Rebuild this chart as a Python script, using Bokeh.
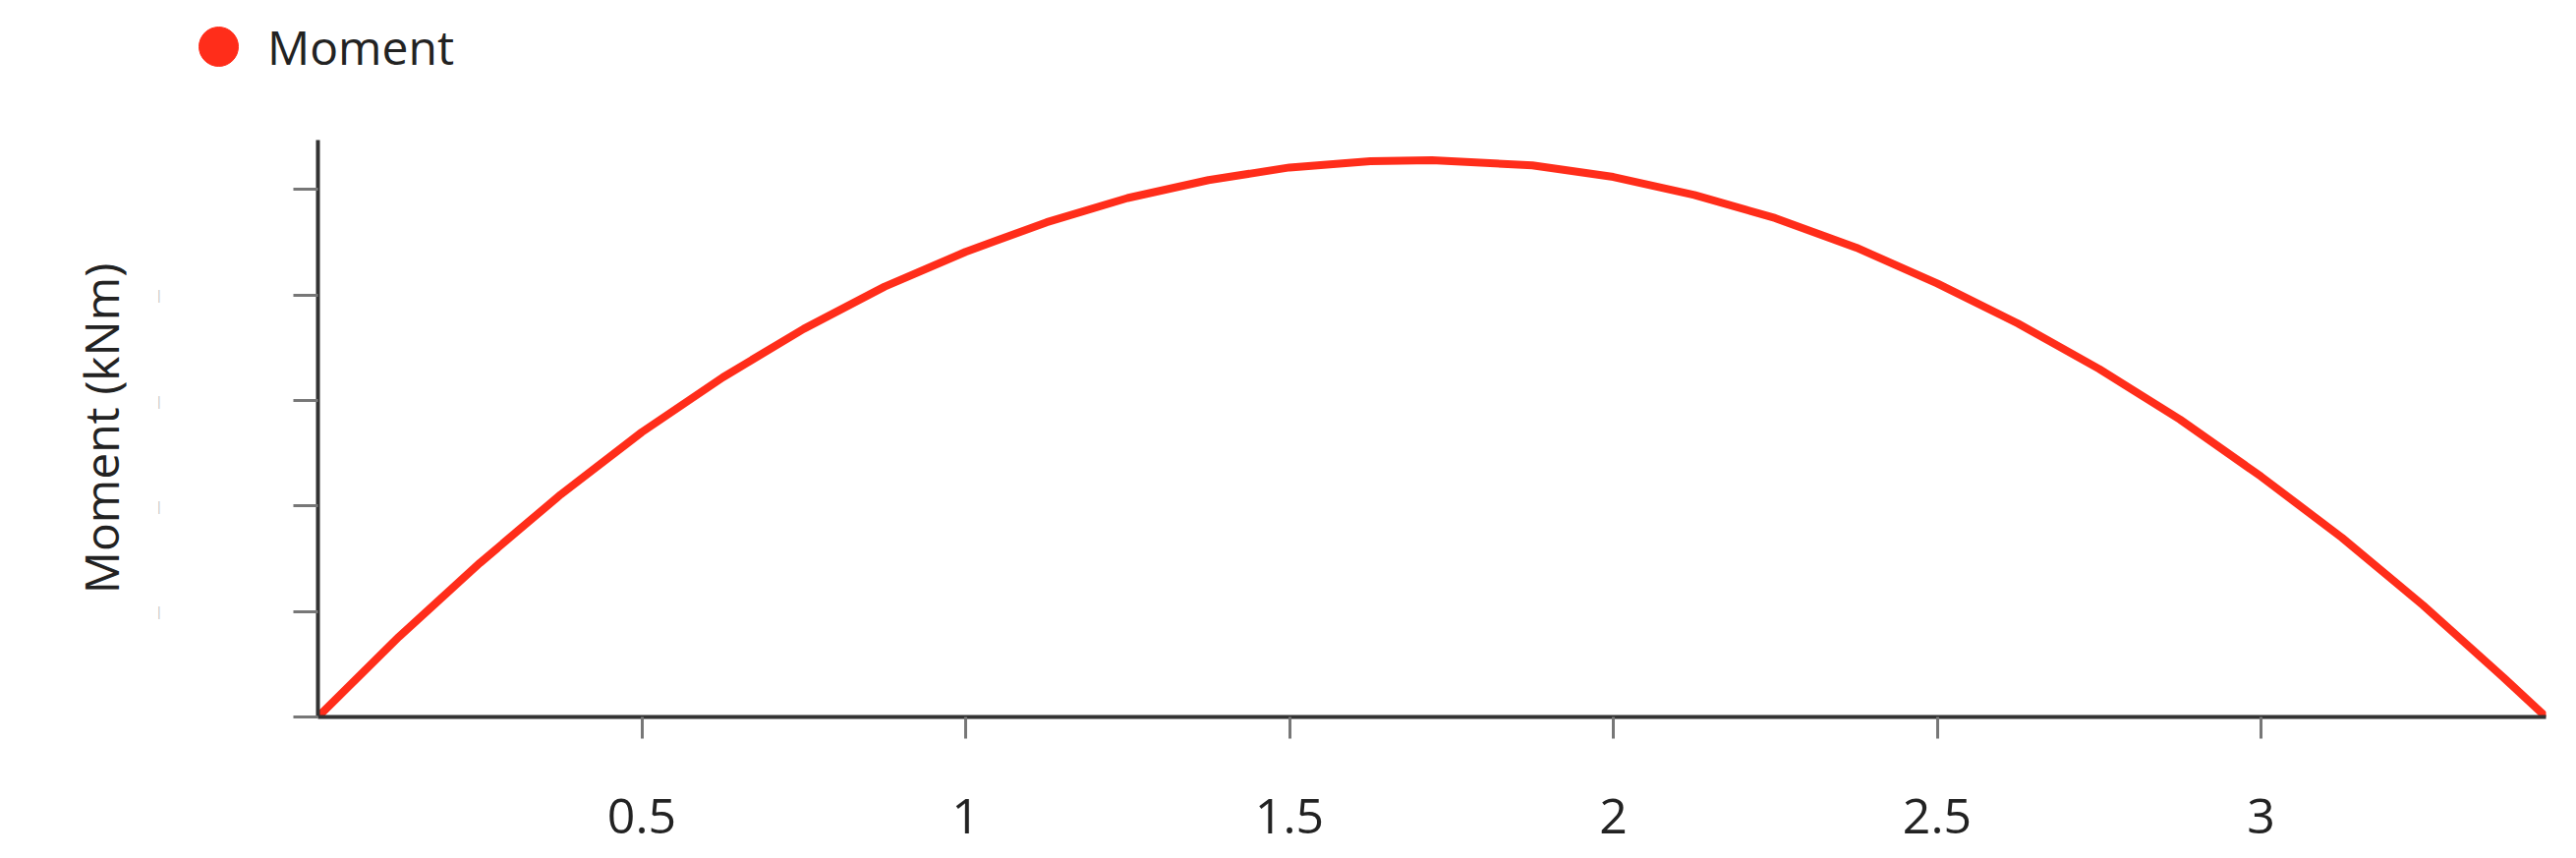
from bokeh.plotting import figure
from bokeh.layouts import column
from bokeh.models import Range1d, FixedTicker, Legend, LegendItem, ColumnDataSource
from bokeh.embed import file_html
from bokeh.resources import INLINE

# data (x in m, moment in axis tick units)
x_pos = [0.0, 0.125, 0.25, 0.375, 0.5, 0.625, 0.75, 0.875, 1.0, 1.125, 1.25, 1.375,
         1.5, 1.625, 1.72, 1.875, 2.0, 2.125, 2.25, 2.375, 2.5, 2.625, 2.75, 2.875,
         3.0, 3.125, 3.25, 3.375, 3.44]
moment = [0.0, 0.76, 1.46, 2.11, 2.70, 3.22, 3.68, 4.08, 4.41, 4.69, 4.92, 5.09,
          5.21, 5.27, 5.28, 5.23, 5.12, 4.95, 4.73, 4.45, 4.11, 3.73, 3.30, 2.82,
          2.28, 1.70, 1.06, 0.37, 0.0]
x_ticks = [0.5, 1, 1.5, 2, 2.5, 3]
y_ticks = [0, 1, 2, 3, 4, 5]
y_tick_labels = {0: "", 1: "|", 2: "|", 3: "|", 4: "|", 5: ""}
series_name = "Moment"
y_title = "Moment (kNm)"

RED = "#ff2d1a"
FONT = "Open Sans"
W = 2613
H_LEG = 100
H_MAIN = 770

src = ColumnDataSource(dict(x=x_pos, y=moment))

# ---- legend strip (its own frame, so the legend is not clipped) ----
leg = figure(width=W, height=H_LEG, output_backend="svg", toolbar_location=None,
             x_range=Range1d(0, 1), y_range=Range1d(1000, 1001),
             x_axis_type=None, y_axis_type=None)
leg.frame_align = False
leg.min_border = 0
leg.min_border_left = 0
leg.min_border_right = 0
leg.min_border_top = 0
leg.min_border_bottom = 0
leg.outline_line_color = None
leg.xgrid.visible = False
leg.ygrid.visible = False
marker = leg.scatter("x", "y", source=src, marker="circle", size=10,
                     fill_color=RED, line_color=RED)
legend = Legend(items=[LegendItem(label=series_name, renderers=[marker])],
                location=(172, 2), orientation="horizontal",
                glyph_width=100, glyph_height=102, label_standoff=0,
                padding=0, margin=0, spacing=0,
                border_line_color=None, background_fill_alpha=0,
                label_text_font=FONT, label_text_font_size="48px",
                label_text_color="#222222", label_height=102)
leg.add_layout(legend, "center")

# ---- main chart ----
p = figure(width=W, height=H_MAIN, output_backend="svg", toolbar_location=None,
           x_range=Range1d(0, 3.44), y_range=Range1d(0, 5.47))
p.min_border_left = 323
p.min_border_right = 23
p.min_border_top = 42
p.min_border_bottom = 141
p.outline_line_color = None
p.xgrid.visible = False
p.ygrid.visible = False
p.background_fill_color = "white"

p.line("x", "y", source=src, line_color=RED, line_width=8)

for ax in (p.xaxis[0], p.yaxis[0]):
    ax.axis_line_color = "#333333"
    ax.axis_line_width = 4
    ax.major_tick_line_color = "#777777"
    ax.major_tick_line_width = 3
    ax.minor_tick_line_color = None
    ax.major_tick_in = 0
    ax.major_label_text_font = FONT
    ax.major_label_text_color = "#222222"

p.xaxis.ticker = FixedTicker(ticks=x_ticks)
p.xaxis.major_tick_out = 22
p.xaxis.major_label_text_font_size = "50px"
p.xaxis.major_label_standoff = 61

p.yaxis.ticker = FixedTicker(ticks=y_ticks)
p.yaxis.major_tick_out = 25
p.yaxis.major_label_overrides = y_tick_labels
p.yaxis.major_label_text_font_size = "13px"
p.yaxis.major_label_text_color = "#bbbbbb"
p.yaxis.major_label_standoff = 133
p.yaxis.axis_label = y_title
p.yaxis.axis_label_text_font = FONT
p.yaxis.axis_label_text_font_style = "normal"
p.yaxis.axis_label_text_font_size = "48px"
p.yaxis.axis_label_text_color = "#222222"
p.yaxis.axis_label_standoff = 20

layout = column(leg, p, spacing=0)
open("out.html", "w").write(file_html(layout, INLINE))
